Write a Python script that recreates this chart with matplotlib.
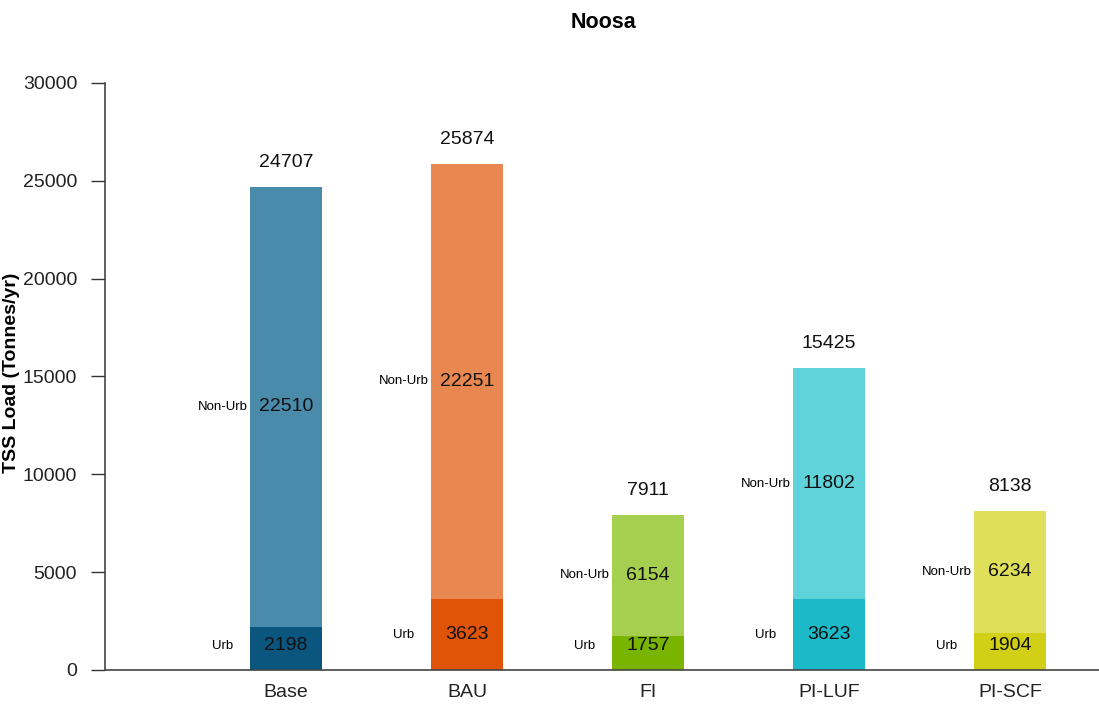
import matplotlib
matplotlib.use("Agg")
import matplotlib.pyplot as plt
import numpy as np

plt.rcParams['font.family'] = ['Liberation Sans', 'DejaVu Sans']

categories = ["Base", "BAU", "FI", "PI-LUF", "PI-SCF"]
urb = [2198, 3623, 1757, 3623, 1904]
non_urb = [22510, 22251, 6154, 11802, 6234]
totals = [24707, 25874, 7911, 15425, 8138]
urb_colors = ["#0b567f", "#df5408", "#78b400", "#1cbac9", "#d2d016"]
non_urb_colors = ["#4a8aab", "#e8874f", "#a6cf4f", "#5fd2da", "#e0df5a"]
yticks = [0, 5000, 10000, 15000, 20000, 25000, 30000]

fig = plt.figure(figsize=(10.99, 7.04), dpi=100)
ax = fig.add_axes([105/1099, 34/704, 1 - 105/1099, (670-83)/704])

x = np.arange(1, len(categories) + 1)
w = 0.4
ax.bar(x, urb, width=w, color=urb_colors, linewidth=0)
ax.bar(x, non_urb, width=w, bottom=urb, color=non_urb_colors, linewidth=0)

side_off = w / 2 + 0.15
for xi, u, n, t in zip(x, urb, non_urb, totals):
    yu = max(u / 2, 1250)
    yn = u + n / 2
    ax.text(xi, yu, f"{u}", ha="center", va="center", fontsize=14, color="#111111")
    ax.text(xi, yn, f"{n}", ha="center", va="center", fontsize=14, color="#111111")
    ax.text(xi, t + 1250, f"{t}", ha="center", va="center", fontsize=14, color="#111111")
    ax.text(xi - side_off, yu, "Urb", ha="center", va="center", fontsize=9.5)
    ax.text(xi - side_off, yn, "Non-Urb", ha="center", va="center", fontsize=9.5)

ax.set_xlim(0, 5.49)
ax.set_ylim(0, 30000)
ax.set_yticks(yticks)
ax.set_yticklabels([str(v) for v in yticks], fontsize=14, color="#222222")
ax.set_xticks(x)
ax.set_xticklabels(categories, fontsize=14, color="#222222")
ax.tick_params(axis="x", length=0, pad=10)
ax.tick_params(axis="y", direction="out", length=10, width=1, color="#333333", pad=10)
for s in ["top", "right"]:
    ax.spines[s].set_visible(False)
for s in ["left", "bottom"]:
    ax.spines[s].set_color("#444444")
    ax.spines[s].set_linewidth(1.2)

ax.set_ylabel("TSS Load (Tonnes/yr)", fontsize=14, fontweight="bold")
ax.yaxis.set_label_coords(-0.086, 0.507)
fig.text(603/1099, 1 - 22/704, "Noosa", ha="center", va="center", fontsize=15.5, fontweight="bold")

fig.savefig("out.png", dpi=100)
